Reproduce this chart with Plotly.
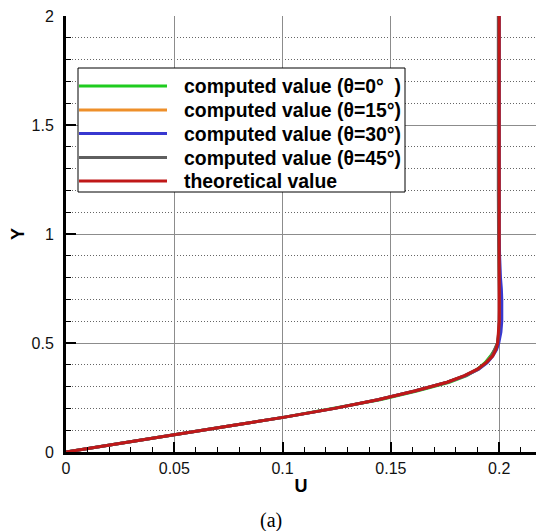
import plotly.graph_objects as go

# ---------------- data ----------------
y_vals = [0, 0.02, 0.05, 0.08, 0.12, 0.16, 0.2, 0.24, 0.28, 0.32, 0.35, 0.38, 0.41,
          0.44, 0.47, 0.5, 0.55, 0.6, 0.65, 0.7, 0.75, 0.8, 0.9, 1.0, 1.2, 1.3, 1.5, 2.0]

u_theta0 = [0, 0.013, 0.032, 0.051, 0.076, 0.101, 0.124, 0.145, 0.162, 0.177, 0.185, 0.190, 0.1935,
            0.196, 0.198, 0.1993, 0.2, 0.2003, 0.2003, 0.2002, 0.2001, 0.2, 0.2, 0.2, 0.2, 0.2, 0.2, 0.2]
u_theta15 = [0, 0.013, 0.032, 0.051, 0.076, 0.101, 0.124, 0.144, 0.161, 0.176, 0.1845, 0.1905, 0.194,
             0.1965, 0.1982, 0.1994, 0.2002, 0.2005, 0.2005, 0.2004, 0.2002, 0.2001, 0.2, 0.2, 0.2, 0.2, 0.2, 0.2]
u_theta30 = [0, 0.013, 0.032, 0.051, 0.076, 0.101, 0.124, 0.144, 0.161, 0.176, 0.1845, 0.1905, 0.1945,
             0.197, 0.1988, 0.1998, 0.2008, 0.2012, 0.2013, 0.2012, 0.201, 0.2006, 0.2002, 0.2, 0.2, 0.2, 0.2, 0.2]
u_theta45 = [0, 0.013, 0.032, 0.051, 0.076, 0.101, 0.124, 0.144, 0.161, 0.176, 0.184, 0.190, 0.194,
             0.1965, 0.198, 0.1992, 0.1998, 0.2, 0.2, 0.2, 0.2, 0.1999, 0.1998, 0.1997, 0.1996, 0.1996, 0.1996, 0.1996]
u_theory = [0, 0.013, 0.032, 0.051, 0.076, 0.101, 0.124, 0.144, 0.161, 0.176, 0.184, 0.190, 0.194,
            0.197, 0.1985, 0.1993, 0.1998, 0.2, 0.2, 0.2, 0.2, 0.2, 0.2, 0.2, 0.2, 0.2, 0.2, 0.2]

series_names = ["computed value (θ=0°  )", "computed value (θ=15°)", "computed value (θ=30°)",
                "computed value (θ=45°)", "theoretical value"]
series_u = [u_theta0, u_theta15, u_theta30, u_theta45, u_theory]
series_colors = ["#1fcc1f", "#ee8f2a", "#3838d0", "#5f5f5f", "#c01818"]

x_ticks = [0, 0.05, 0.1, 0.15, 0.2]
x_ticklabels = ["0", "0.05", "0.1", "0.15", "0.2"]
y_ticks = [0, 0.5, 1, 1.5, 2]
y_ticklabels = ["0", "0.5", "1", "1.5", "2"]

# ---------------- layout constants ----------------
W, H = 536, 531
L, R, T, B = 66, 0, 16, 79
PW, PH = W - L - R, H - T - B


def px_x(px):
    return (px - L) / PW


def px_y(py):
    return (H - B - py) / PH


fig = go.Figure()
for name, u, c in zip(series_names, series_u, series_colors):
    fig.add_trace(go.Scatter(x=u, y=y_vals, mode="lines", name=name,
                             line=dict(color=c, width=3), showlegend=False))

# custom legend (long line samples like the original)
shapes = [dict(type="rect", xref="paper", yref="paper",
               x0=px_x(78), x1=px_x(405), y0=px_y(192), y1=px_y(68),
               line=dict(color="black", width=1), fillcolor="white", layer="above")]
annotations = []
row_px = [86, 110, 133.5, 157.5, 181]
for name, c, py in zip(series_names, series_colors, row_px):
    shapes.append(dict(type="line", xref="paper", yref="paper",
                       x0=px_x(79), x1=px_x(167), y0=px_y(py), y1=px_y(py),
                       line=dict(color=c, width=3), layer="above"))
    annotations.append(dict(xref="paper", yref="paper", x=px_x(182), y=px_y(py),
                            xanchor="left", yanchor="middle", showarrow=False,
                            text="<b>%s</b>" % name,
                            font=dict(family="Liberation Sans, Arial", size=19.4, color="black")))

annotations.append(dict(xref="paper", yref="paper", x=px_x(271), y=px_y(520),
                        xanchor="center", yanchor="middle", showarrow=False, text="(a)",
                        font=dict(family="Liberation Serif, Times New Roman", size=20, color="black")))

fig.update_layout(
    width=W, height=H,
    margin=dict(l=L, r=R, t=T, b=B, pad=0),
    paper_bgcolor="white", plot_bgcolor="white",
    font=dict(family="Liberation Sans, Arial", size=16, color="black"),
    shapes=shapes, annotations=annotations,
)

fig.update_xaxes(
    range=[0, 0.217], tickvals=x_ticks, ticktext=x_ticklabels,
    ticks="inside", ticklen=10, tickwidth=2, tickcolor="black",
    showline=True, linecolor="black", linewidth=3,
    showgrid=True, gridcolor="#8c8c8c", gridwidth=1, zeroline=False,
    minor=dict(dtick=0.01, ticks="inside", ticklen=5, tickwidth=1, tickcolor="black", showgrid=False),
    tickfont=dict(size=16, color="#111"),
    title=dict(text="<b>U</b>", font=dict(size=18), standoff=4),
)
fig.update_yaxes(
    range=[0, 2], tickvals=y_ticks, ticktext=y_ticklabels,
    ticks="inside", ticklen=10, tickwidth=2, tickcolor="black",
    showline=True, linecolor="black", linewidth=3,
    showgrid=True, gridcolor="#8c8c8c", gridwidth=1, zeroline=False,
    minor=dict(dtick=0.1, ticks="inside", ticklen=5, tickwidth=1, tickcolor="black",
               showgrid=True, gridcolor="#666", griddash="1px,2px", gridwidth=1),
    tickfont=dict(size=16, color="#111"),
    ticklabelstandoff=6,
    title=dict(text="<b>Y</b>", font=dict(size=18), standoff=3),
)

fig.write_html("out.html")
